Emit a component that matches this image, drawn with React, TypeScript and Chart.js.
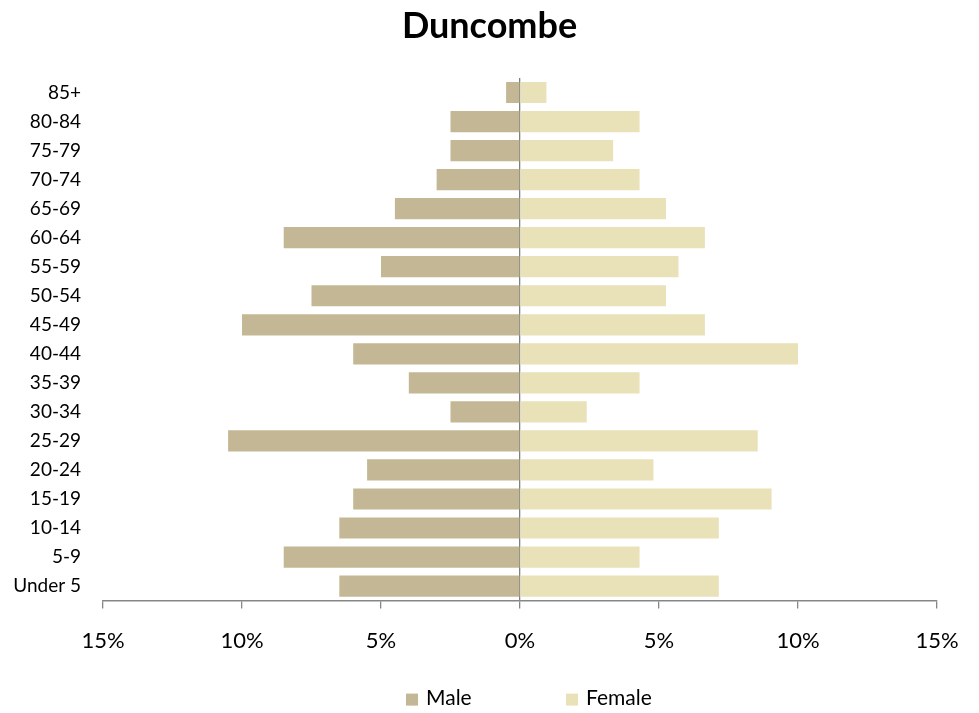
import React, { useEffect, useRef } from "react";
import { Chart, registerables } from "chart.js";

Chart.register(...registerables);

const TITLE = "Duncombe";
const AGE_GROUPS = [
  "Under 5", "5-9", "10-14", "15-19", "20-24", "25-29", "30-34", "35-39", "40-44",
  "45-49", "50-54", "55-59", "60-64", "65-69", "70-74", "75-79", "80-84", "85+",
];
const MALE = [6.5, 8.5, 6.5, 6.0, 5.5, 10.5, 2.5, 4.0, 6.0, 10.0, 7.5, 5.0, 8.5, 4.5, 3.0, 2.5, 2.5, 0.5];
const FEMALE = [7.15, 4.3, 7.15, 9.05, 4.8, 8.55, 2.4, 4.3, 10.0, 6.65, 5.25, 5.7, 6.65, 5.25, 4.3, 3.35, 4.3, 0.95];
const SERIES_NAMES = ["Male", "Female"];
const COLORS = ["#C4B795", "#E9E1B8"];
const X_MIN = -15;
const X_MAX = 15;
const X_STEP = 5;

const FONT = "Lato, 'Open Sans', sans-serif";

const legendPlugin = {
  id: "customLegend",
  afterDraw(chart: any) {
    const ctx = chart.ctx;
    const zero = chart.scales.x.getPixelForValue(0);
    const y = chart.chartArea.bottom + 99;
    const offsets = [-114, 46];
    ctx.save();
    ctx.font = `21px ${FONT}`;
    ctx.textBaseline = "middle";
    ctx.textAlign = "left";
    SERIES_NAMES.forEach((name, i) => {
      const bx = zero + offsets[i];
      ctx.fillStyle = COLORS[i];
      ctx.fillRect(bx, y - 6, 12, 12);
      ctx.fillStyle = "#000";
      ctx.fillText(name, bx + 20, y - 1);
    });
    ctx.restore();
  },
};

export default function App() {
  const ref = useRef<HTMLCanvasElement>(null);
  useEffect(() => {
    document.body.style.marginBottom = "0px";
    if (!ref.current) return;
    const chart = new Chart(ref.current, {
      type: "bar",
      data: {
        labels: AGE_GROUPS,
        datasets: [
          {
            label: SERIES_NAMES[0],
            data: MALE.map((v) => -v),
            backgroundColor: COLORS[0],
            barPercentage: 0.73,
            categoryPercentage: 1,
          },
          {
            label: SERIES_NAMES[1],
            data: FEMALE,
            backgroundColor: COLORS[1],
            barPercentage: 0.73,
            categoryPercentage: 1,
          },
        ],
      },
      options: {
        indexAxis: "y",
        animation: false,
        responsive: true,
        maintainAspectRatio: false,
        layout: { padding: { left: 0, right: 0, top: 0, bottom: 40 } },
        plugins: {
          legend: { display: false },
          tooltip: { enabled: false },
          title: {
            display: true,
            text: TITLE,
            color: "#000",
            font: { family: FONT, size: 36, weight: "bold", lineHeight: 1.0 },
            padding: { top: 0, bottom: 34 },
          },
        },
        scales: {
          x: {
            type: "linear",
            min: X_MIN,
            max: X_MAX,
            z: 1,
            stacked: true,
            ticks: {
              stepSize: X_STEP,
              color: "#000",
              padding: 12.4,
              font: { family: FONT, size: 22, lineHeight: 1.8 },
              callback: (v: any) => `${Math.abs(Number(v))}%`,
            },
            grid: {
              color: (c: any) => (c.tick && c.tick.value === 0 ? "#808080" : "rgba(0,0,0,0)"),
              lineWidth: 1.3,
              drawTicks: true,
              tickLength: 8,
              tickColor: "#868686",
            },
            border: { display: true, color: "#868686", width: 1.5 },
          },
          y: {
            type: "category",
            stacked: true,
            reverse: true,
            afterFit: (s: any) => {
              s.width = 95;
            },
            ticks: {
              color: "#000",
              padding: 22,
              font: { family: FONT, size: 19 },
            },
            grid: { display: false, drawTicks: false },
            border: { display: false },
          },
        },
      },
      plugins: [legendPlugin],
    });
    return () => chart.destroy();
  }, []);
  return (
    <div style={{ width: 963, height: 705, position: "relative" }}>
      <canvas ref={ref} />
    </div>
  );
}
